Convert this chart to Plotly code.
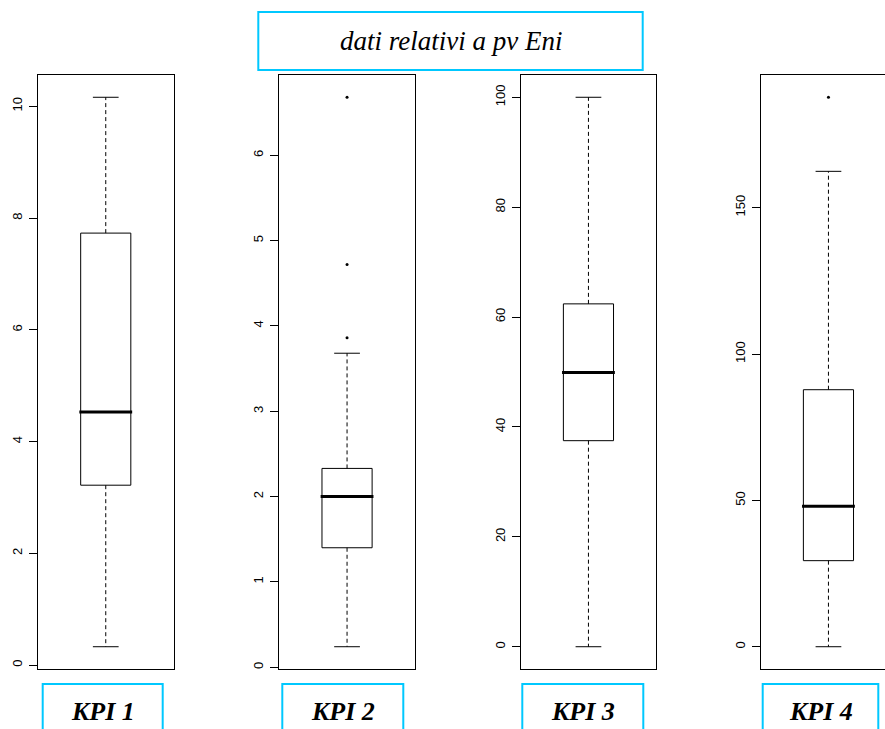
import plotly.graph_objects as go

# ---- data ----
kpi_names = ["KPI 1", "KPI 2", "KPI 3", "KPI 4"]
lower_whisker = [0.33, 0.24, 0.0, 0.0]
q1_values = [3.22, 1.40, 37.5, 29.4]
median_values = [4.53, 2.00, 49.9, 48.0]
q3_values = [7.73, 2.33, 62.4, 87.8]
upper_whisker = [10.16, 3.68, 100.0, 162.4]
outliers = [[], [3.86, 4.72, 6.68], [], [187.7]]
tick_steps = [2, 1, 20, 50]
title_text = "dati relativi a pv Eni"

W, H = 885, 729
CYAN = "#00C8FF"

def px(x):
    return x / W

def py(y):
    return 1 - y / H

panel_left = [38.0, 279.3, 520.7, 760.7]
panel_w = 135.5
top_px, bot_px = 75.3, 668.7
label_boxes = [(42.7, 162.7), (282.3, 403.3), (522.3, 643.3), (762.7, 878.3)]

fig = go.Figure()
layout = dict(
    width=W, height=H,
    margin=dict(l=0, r=0, t=0, b=0),
    paper_bgcolor="white", plot_bgcolor="white",
    showlegend=False,
    font=dict(family="Liberation Sans, Arial, sans-serif", size=13, color="black"),
)

box_half = 0.185
cap_half = 0.095
center = 0.5

shapes = []
annotations = []

for i in range(4):
    xa = "x" if i == 0 else f"x{i+1}"
    ya = "y" if i == 0 else f"y{i+1}"
    lw, q1, md, q3, uw = lower_whisker[i], q1_values[i], median_values[i], q3_values[i], upper_whisker[i]
    allv = [lw, uw] + outliers[i]
    lo, hi = min(allv), max(allv)
    pad = 0.04 * (hi - lo)
    yr = [lo - pad, hi + pad]

    L = panel_left[i]
    R = min(L + panel_w, W)
    xr = [0, (R - L) / panel_w]

    layout[f"xaxis{'' if i == 0 else i+1}"] = dict(
        domain=[px(L), px(R)], range=xr, anchor=ya,
        showticklabels=False, ticks="", showgrid=False, zeroline=False,
        showline=True, mirror=True, linecolor="black", linewidth=1,
        fixedrange=True,
    )
    layout[f"yaxis{'' if i == 0 else i+1}"] = dict(
        domain=[py(bot_px), py(top_px)], range=yr, anchor=xa,
        tick0=0, dtick=tick_steps[i], tickangle=-90,
        ticks="outside", ticklen=8, tickwidth=1, tickcolor="black",
        ticklabelstandoff=2,
        tickfont=dict(size=13, family="Liberation Sans, Arial, sans-serif"),
        showgrid=False, zeroline=False,
        showline=True, mirror=(i < 3), linecolor="black", linewidth=1,
        automargin=False, fixedrange=True,
    )

    # box outline
    fig.add_trace(go.Scatter(
        x=[center - box_half, center + box_half, center + box_half, center - box_half, center - box_half],
        y=[q1, q1, q3, q3, q1], mode="lines",
        line=dict(color="black", width=1), xaxis=xa, yaxis=ya, hoverinfo="skip"))
    # median
    fig.add_trace(go.Scatter(
        x=[center - box_half - 0.01, center + box_half + 0.01], y=[md, md], mode="lines",
        line=dict(color="black", width=3), xaxis=xa, yaxis=ya, hoverinfo="skip"))
    # whiskers (dashed)
    fig.add_trace(go.Scatter(
        x=[center, center, None, center, center], y=[q3, uw, None, q1, lw], mode="lines",
        line=dict(color="black", width=1, dash="4px,3px"), xaxis=xa, yaxis=ya, hoverinfo="skip"))
    # caps
    fig.add_trace(go.Scatter(
        x=[center - cap_half, center + cap_half, None, center - cap_half, center + cap_half],
        y=[uw, uw, None, lw, lw], mode="lines",
        line=dict(color="black", width=1), xaxis=xa, yaxis=ya, hoverinfo="skip"))
    # outliers
    if outliers[i]:
        fig.add_trace(go.Scatter(
            x=[center] * len(outliers[i]), y=outliers[i], mode="markers",
            marker=dict(color="black", size=3, symbol="circle"),
            xaxis=xa, yaxis=ya, hoverinfo="skip"))

    # KPI label box
    bx0, bx1 = label_boxes[i]
    shapes.append(dict(type="rect", xref="paper", yref="paper",
                       x0=px(bx0), x1=px(bx1), y0=py(760), y1=py(684),
                       line=dict(color=CYAN, width=2), fillcolor="rgba(0,0,0,0)"))
    annotations.append(dict(xref="paper", yref="paper", x=px((bx0 + bx1) / 2), y=py(711),
                            text=f"<b><i>{kpi_names[i]}</i></b>", showarrow=False,
                            xanchor="center", yanchor="middle",
                            font=dict(family="Liberation Serif, Times New Roman, serif", size=26, color="black")))

# title box
shapes.append(dict(type="rect", xref="paper", yref="paper",
                   x0=px(258.3), x1=px(642.7), y0=py(70), y1=py(12),
                   line=dict(color=CYAN, width=2), fillcolor="rgba(0,0,0,0)"))
annotations.append(dict(xref="paper", yref="paper", x=px(450.5), y=py(41),
                        text=f"<i>{title_text}</i>", showarrow=False,
                        xanchor="center", yanchor="middle",
                        font=dict(family="Liberation Serif, Times New Roman, serif", size=27, color="black")))

layout["shapes"] = shapes
layout["annotations"] = annotations
fig.update_layout(**layout)
fig.write_html("out.html", config={"displayModeBar": False},
               post_script="document.body.style.margin='0';document.body.style.overflow='hidden';")
